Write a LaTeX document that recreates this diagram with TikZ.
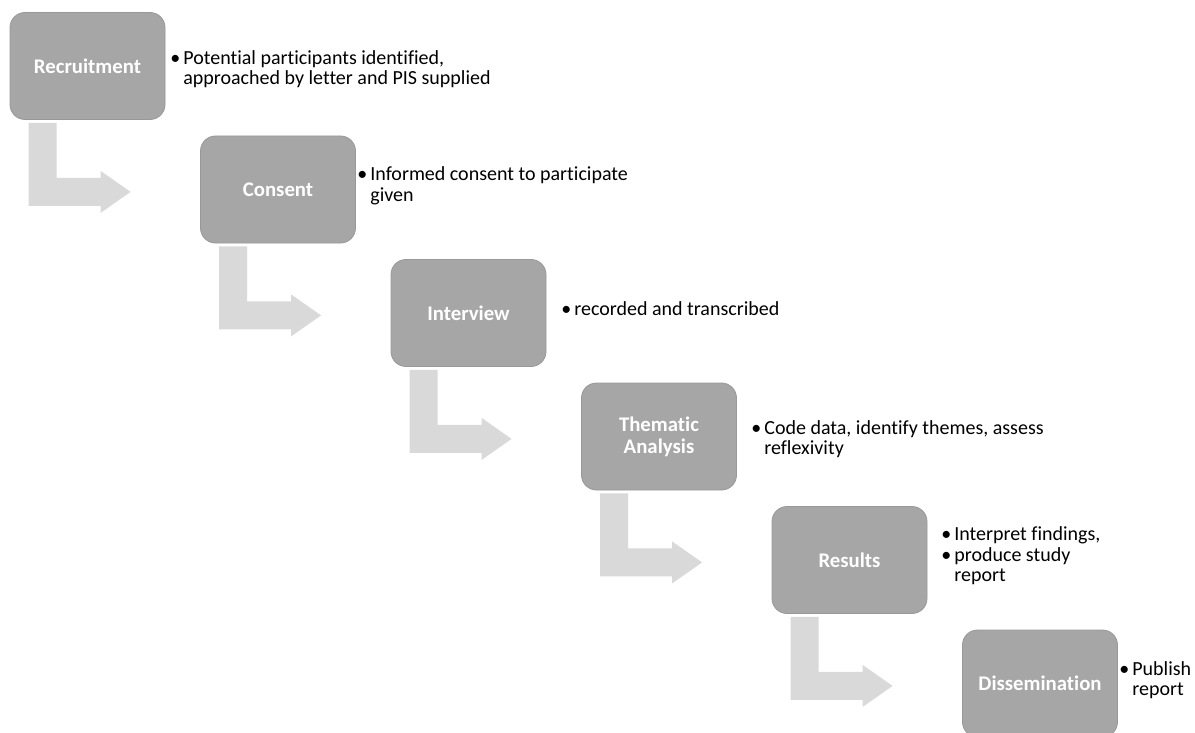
\documentclass[tikz,border=0pt]{standalone}
\usepackage{fontspec}
\setmainfont{Carlito}[Ligatures=NoCommon]
\usepackage{tikz}
\usetikzlibrary{calc}

\definecolor{boxgray}{RGB}{166,166,166}
\definecolor{boxline}{RGB}{152,152,152}
\definecolor{arrowgray}{RGB}{217,217,217}

\newcommand{\bul}{\textbullet\hspace{1.5pt}}
\newcommand{\nobul}{\hphantom{\textbullet\hspace{1.5pt}}}

\begin{document}
\begin{tikzpicture}[x=0.5pt, y=-0.5pt,
		stepbox/.style={draw=boxline, fill=boxgray, rounded corners=7.5pt, minimum width=77.5pt, minimum height=53.5pt, inner sep=0pt, align=center, text=white, font=\fontsize{10.4}{11}\selectfont\bfseries},
		notes/.style={anchor=west, inner sep=0pt, align=left, font=\fontsize{10}{10.3}\selectfont},
		bendarrow/.style={fill=arrowgray}]
		\useasboundingbox (0,0) rectangle (1195,733);
		
		\node[stepbox] (b1) at (87.5, 66) {Recruitment};
		\node[stepbox] (b2) at (278, 189.5) {Consent};
		\node[stepbox] (b3) at (468.5, 313) {Interview};
		\node[stepbox] (b4) at (659, 436.5) {Thematic\\Analysis};
		\node[stepbox] (b5) at (849.5, 560) {Results};
		\node[stepbox] (b6) at (1040, 683.5) {Dissemination};
		
		\node[notes] (t1) at (170, 69) {\bul Potential participants identified,\\\nobul approached by letter and PIS supplied};
		\node[notes] (t2) at (357, 186) {\bul Informed consent to participate\\\nobul given};
		\node[notes] (t3) at (561, 309) {\bul recorded and transcribed};
		\node[notes] (t4) at (751, 439) {\bul Code data, identify themes, assess\\\nobul reflexivity};
		\node[notes] (t5) at (941, 556) {\bul Interpret findings,\\\bul produce study\\\nobul report};
		\node[notes] (t6) at (1119, 680) {\bul Publish\\\nobul report};
		
		\foreach \i in {1,...,5}{
			\fill[bendarrow] ($(b\i.south west)+(19,3)$) -- ++(28,0) -- ++(0,55) -- ++(44,0) -- ++(0,-7) -- ++(30,21) -- ++(-30,21) -- ++(0,-7) -- ++(-72,0) -- cycle;
		}
	\end{tikzpicture}
\end{document}
